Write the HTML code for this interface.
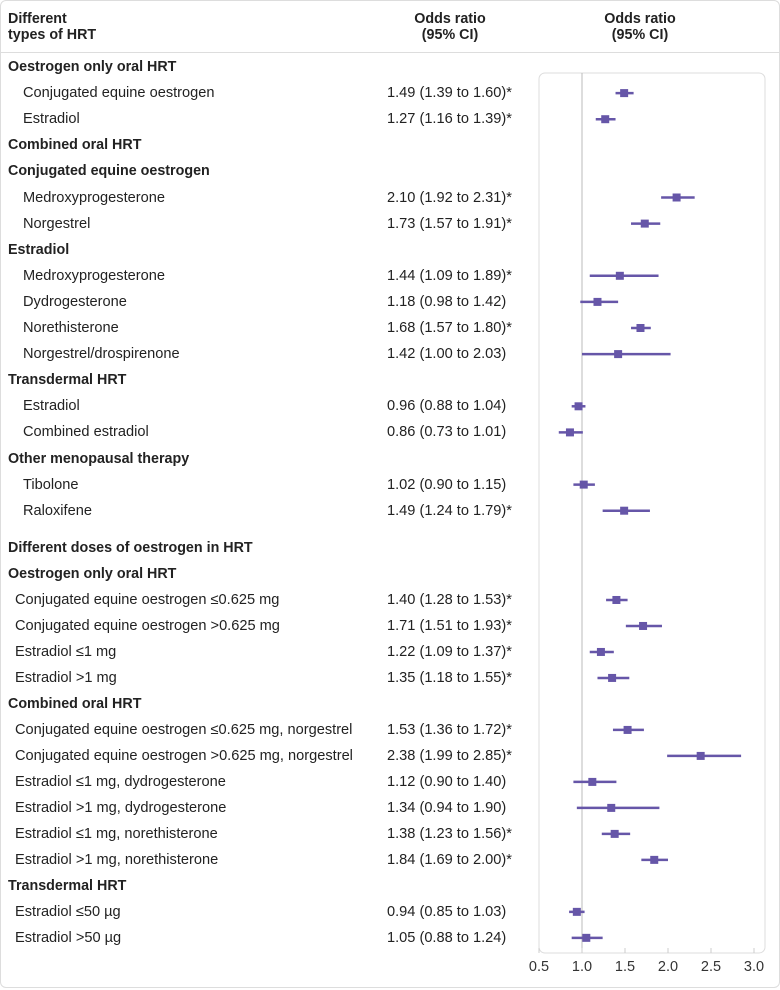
<!DOCTYPE html>
<html><head><meta charset="utf-8"><style>
body{margin:0;background:#fff;font-family:"Liberation Sans",sans-serif;color:#222;}
#card{position:absolute;left:0;top:0;width:778px;height:986px;border:1px solid #ddd;border-radius:6px;}
.t{position:absolute;font-size:14.6px;white-space:nowrap;line-height:16px;}
.b{font-weight:bold;font-size:14.3px;}
.h{position:absolute;font-size:14.3px;font-weight:bold;line-height:16px;}
</style></head><body>
<div id="card"></div>
<div class="h" style="left:8px;top:11px">Different<br>types of HRT</div>
<div class="h" style="left:390px;top:11px;width:120px;text-align:center">Odds ratio<br>(95% CI)</div>
<div class="h" style="left:580px;top:11px;width:120px;text-align:center">Odds ratio<br>(95% CI)</div>
<div style="position:absolute;left:0;top:52px;width:780px;height:1px;background:#ddd"></div>
<svg id="plot" width="780" height="990" style="position:absolute;left:0;top:0"></svg>
<div id="rows"></div>
<script>
const labels=["Oestrogen only oral HRT","Conjugated equine oestrogen","Estradiol","Combined oral HRT","Conjugated equine oestrogen","Medroxyprogesterone","Norgestrel","Estradiol","Medroxyprogesterone","Dydrogesterone","Norethisterone","Norgestrel/drospirenone","Transdermal HRT","Estradiol","Combined estradiol","Other menopausal therapy","Tibolone","Raloxifene","","Different doses of oestrogen in HRT","Oestrogen only oral HRT","Conjugated equine oestrogen ≤0.625 mg","Conjugated equine oestrogen >0.625 mg","Estradiol ≤1 mg","Estradiol >1 mg","Combined oral HRT","Conjugated equine oestrogen ≤0.625 mg, norgestrel","Conjugated equine oestrogen >0.625 mg, norgestrel","Estradiol ≤1 mg, dydrogesterone","Estradiol >1 mg, dydrogesterone","Estradiol ≤1 mg, norethisterone","Estradiol >1 mg, norethisterone","Transdermal HRT","Estradiol ≤50 µg","Estradiol >50 µg"];
const indent=[0,1,1,0,0,1,1,0,1,1,1,1,0,1,1,0,1,1,0,0,0,2,2,2,2,0,2,2,2,2,2,2,0,2,2];
const bold=[1,0,0,1,1,0,0,1,0,0,0,0,1,0,0,1,0,0,0,1,1,0,0,0,0,1,0,0,0,0,0,0,1,0,0];
const orv=[null,1.49,1.27,null,null,2.10,1.73,null,1.44,1.18,1.68,1.42,null,0.96,0.86,null,1.02,1.49,null,null,null,1.40,1.71,1.22,1.35,null,1.53,2.38,1.12,1.34,1.38,1.84,null,0.94,1.05];
const lo=[null,1.39,1.16,null,null,1.92,1.57,null,1.09,0.98,1.57,1.00,null,0.88,0.73,null,0.90,1.24,null,null,null,1.28,1.51,1.09,1.18,null,1.36,1.99,0.90,0.94,1.23,1.69,null,0.85,0.88];
const hi=[null,1.60,1.39,null,null,2.31,1.91,null,1.89,1.42,1.80,2.03,null,1.04,1.01,null,1.15,1.79,null,null,null,1.53,1.93,1.37,1.55,null,1.72,2.85,1.40,1.90,1.56,2.00,null,1.03,1.24];
const sig=[0,1,1,0,0,1,1,0,1,0,1,0,0,0,0,0,0,1,0,0,0,1,1,1,1,0,1,1,0,0,1,1,0,0,0];
const ticks=[0.5,1.0,1.5,2.0,2.5,3.0];
const x=v=>539+(v-0.5)*86;
const y=i=>i<19?67+i*26.1:548+(i-19)*25.99;
const NS="http://www.w3.org/2000/svg";
const svg=document.getElementById('plot');
function mk(t,a){const e=document.createElementNS(NS,t);for(const k in a)e.setAttribute(k,a[k]);svg.appendChild(e);return e;}
const box=mk('rect',{x:539,y:73,width:226,height:880,rx:6,fill:'none',stroke:'#ddd','stroke-width':1});


const ref=mk('line',{x1:x(1),x2:x(1),y1:73,y2:953,stroke:'#bbb','stroke-width':1});


ticks.forEach(t=>{
 const tk=mk('line',{x1:x(t),x2:x(t),y1:948,y2:953,stroke:'#ccc'});
 
 
 const tl=mk('text',{x:x(t),y:971,'text-anchor':'middle','font-size':14.5,fill:'#333','font-family':'Liberation Sans, sans-serif'});
 tl.textContent=t.toFixed(1);
 
 
});
const rows=document.getElementById('rows');
const f=v=>v.toFixed(2);
labels.forEach((l,i)=>{
 const yy=y(i);
 if(l){const d=document.createElement('div');d.className='t'+(bold[i]?' b':'');
  d.style.left=(indent[i]==1?23:indent[i]==2?15:8)+'px';d.style.top=(yy-8)+'px';d.textContent=l;
  
  
  rows.appendChild(d);}
 if(orv[i]!=null){
  const d=document.createElement('div');d.className='t';d.style.left='387px';d.style.top=(yy-8)+'px';
  d.textContent=f(orv[i])+' ('+f(lo[i])+' to '+f(hi[i])+')'+(sig[i]?'*':'');
  
  
  rows.appendChild(d);
  const ln=mk('line',{x1:x(lo[i]),x2:x(hi[i]),y1:yy,y2:yy,stroke:'#6656a8','stroke-width':2.5});
  
  
  const pt=mk('rect',{x:x(orv[i])-4,y:yy-4,width:8,height:8,fill:'#6656a8'});
  
  
 }
});
</script>
</body></html>
